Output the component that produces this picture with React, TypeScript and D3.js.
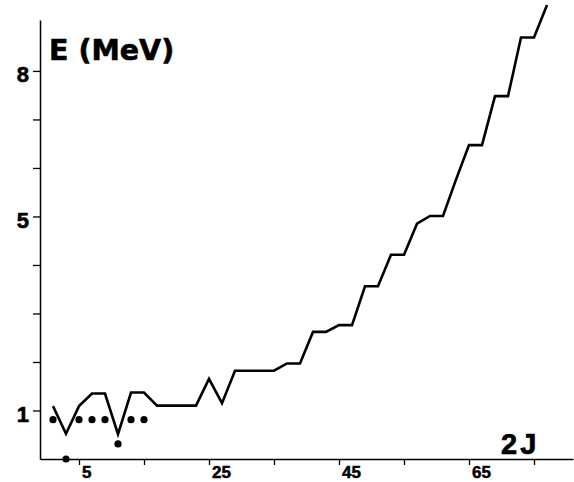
import { useEffect, useRef } from 'react'
import * as d3 from 'd3'

// calculated yrast line (2J vs E)
const spin2J = [1, 3, 5, 7, 9, 11, 13, 15, 17, 19, 21, 23, 25, 27, 29, 31, 33, 35, 37, 39,
  41, 43, 45, 47, 49, 51, 53, 55, 57, 59, 61, 63, 65, 67, 69, 71, 73, 75, 77]
const calcEnergy = [1.09, 0.52, 1.09, 1.35, 1.35, 0.51, 1.37, 1.37, 1.1, 1.1, 1.1, 1.1, 1.65, 1.15,
  1.82, 1.82, 1.82, 1.82, 1.97, 1.97, 2.62, 2.62, 2.76, 2.76, 3.56, 3.56, 4.21, 4.21, 4.85, 5.01,
  5.01, 5.76, 6.47, 6.47, 7.48, 7.48, 8.69, 8.69, 9.36]

// experimental levels (dots)
const expSpin2J = [1, 3, 5, 7, 9, 11, 13, 15]
const expEnergy = [0.81, 0, 0.81, 0.81, 0.81, 0.31, 0.81, 0.81]

const xTicks = [5, 15, 25, 35, 45, 55, 65, 75]
const xLabels = [5, 25, 45, 65]
const yTicks = [1, 2, 3, 4, 5, 6, 7, 8]
const yLabels = [1, 5, 8]

export default function App() {
  const svgRef = useRef<SVGSVGElement>(null)
  const width = 574
  const height = 482

  useEffect(() => {
    if (!svgRef.current) return
    const svg = d3.select(svgRef.current)
    svg.selectAll('*').remove()

    const x = d3.scaleLinear().domain([-1, 81]).range([40, 573])
    const y = d3.scaleLinear().domain([0, 9.05]).range([459, 20])

    // x axis
    const gx = svg.append('g')
      .attr('transform', `translate(0,${y(0)})`)
      .call(d3.axisBottom(x).tickValues(xTicks).tickSize(6).tickSizeOuter(0)
        .tickFormat((d) => (xLabels.includes(+d) ? String(d) : '')))
    gx.select('.domain').attr('stroke-width', 1.5)
    gx.selectAll('.tick line').attr('stroke-width', 1.3)
    gx.selectAll('.tick text')
      .attr('x', 2.5)
      .attr('y', 7)
      .attr('text-anchor', 'start')
      .attr('font-family', 'Liberation Sans, Arial, sans-serif')
      .attr('font-weight', 'bold')
      .attr('font-size', 17)
      .attr('stroke', '#000')
      .attr('stroke-width', 0.5)
      .attr('fill', '#000')

    // y axis
    const gy = svg.append('g')
      .attr('transform', `translate(${x(-1)},0)`)
      .call(d3.axisLeft(y).tickValues(yTicks).tickSize(7).tickSizeOuter(0)
        .tickFormat((d) => (yLabels.includes(+d) ? String(d) : '')))
    gy.select('.domain').attr('stroke-width', 1.5)
    gy.selectAll('.tick line').attr('stroke-width', 1.3)
    gy.selectAll('.tick text')
      .attr('x', -11)
      .attr('dy', '0.5em')
      .attr('font-family', 'Liberation Sans, Arial, sans-serif')
      .attr('font-weight', 'bold')
      .attr('font-size', 22)
      .attr('stroke', '#000')
      .attr('stroke-width', 0.6)
      .attr('fill', '#000')

    // calculated line
    const line = d3.line<number>()
      .x((_, i) => x(spin2J[i]))
      .y((d) => y(d))
    svg.append('path')
      .datum(calcEnergy)
      .attr('d', line)
      .attr('fill', 'none')
      .attr('stroke', '#000')
      .attr('stroke-width', 2.6)
      .attr('stroke-linejoin', 'miter')

    // experimental dots
    svg.append('g')
      .selectAll('circle')
      .data(expEnergy)
      .join('circle')
      .attr('cx', (_, i) => x(expSpin2J[i]))
      .attr('cy', (d) => y(d))
      .attr('r', 3.6)
      .attr('fill', '#000')

    // axis titles
    svg.append('text')
      .attr('x', 49)
      .attr('y', 60)
      .attr('font-family', 'DejaVu Sans, sans-serif')
      .attr('font-weight', 'bold')
      .attr('font-size', 28.5)
      .attr('stroke', '#000')
      .attr('stroke-width', 0.6)
      .attr('fill', '#000')
      .text('E (MeV)')

    svg.append('text')
      .attr('x', 501)
      .attr('y', 454)
      .attr('font-family', 'Liberation Sans, Arial, sans-serif')
      .attr('font-weight', 'bold')
      .attr('font-size', 29)
      .attr('letter-spacing', 3)
      .attr('stroke', '#000')
      .attr('stroke-width', 0.7)
      .attr('fill', '#000')
      .text('2J')
  }, [])

  return (
    <svg
      ref={svgRef}
      width={width}
      height={height}
      style={{ position: 'absolute', left: 0, top: 0, background: '#fff' }}
    />
  )
}
